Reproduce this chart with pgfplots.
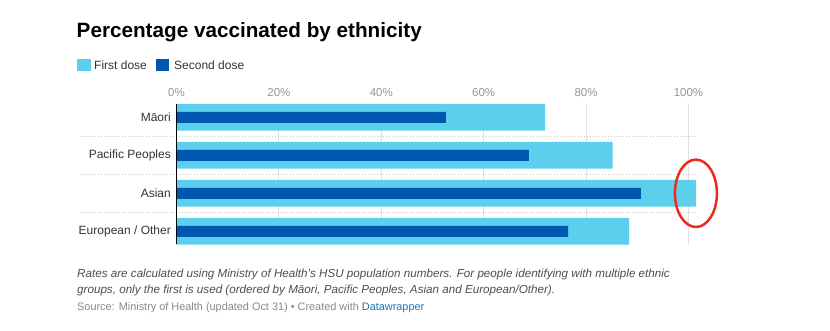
\documentclass[border=0pt]{standalone}
\usepackage{pgfplots}
\pgfplotsset{compat=1.18}
\usepackage{fontspec}
\setmainfont{Liberation Sans}
\definecolor{lightc}{HTML}{5BCFEC}
\definecolor{darkc}{HTML}{0057AF}
\definecolor{labc}{HTML}{333333}
\definecolor{tickc}{HTML}{959595}
\definecolor{gridc}{HTML}{E0E0E0}
\definecolor{sepc}{HTML}{C8C8C8}
\definecolor{notec}{HTML}{4D4D4D}
\definecolor{srcc}{HTML}{888888}
\definecolor{linkc}{HTML}{1D75B5}
\definecolor{ringc}{HTML}{EE2A1E}
\begin{document}
\begin{tikzpicture}
\useasboundingbox (0,0) rectangle (830bp,331bp);
% title
\node[anchor=base west, inner sep=0pt, font=\fontsize{20.7bp}{24bp}\selectfont\bfseries] at (76.5bp,293.3bp) {Percentage vaccinated by ethnicity};
% legend
\fill[lightc] (77.3bp,260bp) rectangle (90.7bp,271.7bp);
\node[anchor=base west, inner sep=0pt, text=labc, font=\fontsize{12bp}{14bp}\selectfont] at (94bp,261.7bp) {First dose};
\fill[darkc] (156bp,260bp) rectangle (169.3bp,271.7bp);
\node[anchor=base west, inner sep=0pt, text=labc, font=\fontsize{12bp}{14bp}\selectfont] at (174bp,261.7bp) {Second dose};
\begin{axis}[
  at={(176.5bp,87bp)}, anchor=south west,
  scale only axis, width=512bp, height=140bp,
  xmin=0, xmax=100, ymin=-0.35, ymax=3.334, y dir=reverse,
  clip=false,
  axis line style={draw=none},
  major tick length=0pt,
  xtick={0,20,40,60,80,100},
  xticklabels={0\%,20\%,40\%,60\%,80\%,100\%},
  xticklabel pos=upper,
  xmajorgrids, grid style={gridc, line width=1bp},
  xticklabel style={font=\fontsize{11.5bp}{13bp}\selectfont, text=tickc, inner sep=0pt, anchor=south, yshift=6.7bp},
  ytick={0,1,2,3},
  yticklabels={Māori,Pacific Peoples,Asian,European / Other},
  yticklabel style={font=\fontsize{12bp}{14bp}\selectfont, text=labc, inner sep=0pt, anchor=east, xshift=-5.5bp},
]
\addplot[xbar, bar width=26.7bp, bar shift=0pt, fill=lightc, draw=none] coordinates {(72.0,0) (85.2,1) (101.5,2) (88.4,3)};
\addplot[xbar, bar width=11bp, bar shift=0pt, fill=darkc, draw=none] coordinates {(52.6,0) (68.8,1) (90.7,2) (76.5,3)};
\foreach \s in {0.5,1.5,2.5}{
  \edef\tmp{\noexpand\draw[sepc, line width=0.8bp, dash pattern=on 1bp off 2bp] (axis cs:-18.85,\s) -- (axis cs:101.5,\s);}
  \tmp
}
\draw[black, line width=1bp] (axis cs:0,-0.35) -- (axis cs:0,3.334);
\draw[ringc, line width=2.5bp] (axis cs:101.45,2) ellipse [x radius=21bp, y radius=33.7bp];
\end{axis}
% notes
\node[anchor=base west, inner sep=0pt, text=notec, font=\fontsize{11.65bp}{13bp}\selectfont\itshape] at (77bp,53.7bp) {Rates are calculated using Ministry of Health's HSU population numbers. For people identifying with multiple ethnic};
\node[anchor=base west, inner sep=0pt, text=notec, font=\fontsize{11.65bp}{13bp}\selectfont\itshape] at (77bp,37.7bp) {groups, only the first is used (ordered by Māori, Pacific Peoples, Asian and European/Other).};
\node[anchor=base west, inner sep=0pt, text=srcc, font=\fontsize{10.9bp}{12bp}\selectfont] at (77bp,20.3bp) {Source: Ministry of Health (updated Oct 31) • Created with \textcolor{linkc}{Datawrapper}};
\end{tikzpicture}
\end{document}
